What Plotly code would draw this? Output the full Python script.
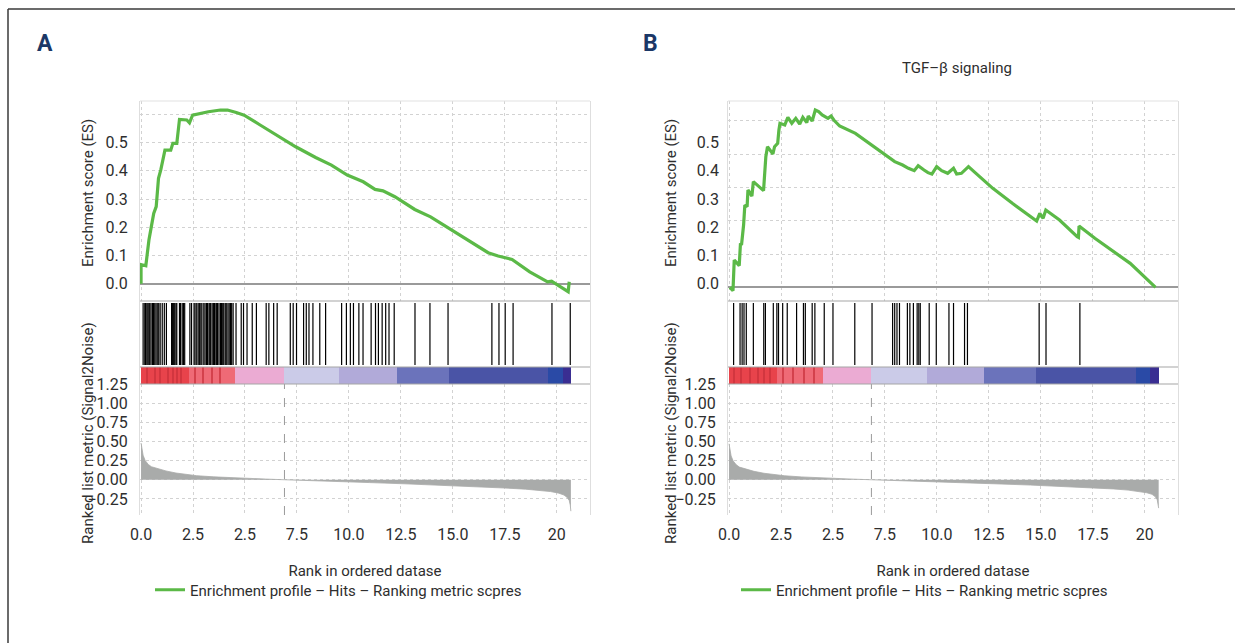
import plotly.graph_objects as go

W, H = 1235, 643

# ------------------------------------------------------------------ data
x_tickvals = [0, 2.5, 5, 7.5, 10, 12.5, 15, 17.5, 20]
x_ticktext = ["0.0", "2.5", "2.5", "7.5", "10.0", "12.5", "15.0", "17.5", "20"]
es_tickvals = [0, 0.1, 0.2, 0.3, 0.4, 0.5, 0.6]
es_ticktext = ["0.0", "0.1", "0.2", "0.3", "0.4", "0.5", ""]
es_label_vals = [0, 0.1, 0.2, 0.3, 0.4, 0.5]
es_label_text = ["0.0", "0.1", "0.2", "0.3", "0.4", "0.5"]
metric_tickvals = [-0.25, 0, 0.25, 0.5, 0.75, 1.0, 1.25]
metric_ticktext = ["\u22120.25", "0.00", "0.25", "0.50", "0.75", "1.00", "1.25"]

# Panel A: running enrichment score
es_a_x = [0, 0.0, 0.23, 0.29, 0.38, 0.48, 0.61, 0.73, 0.84, 0.95, 1.11, 1.15, 1.43, 1.53,
          1.72, 1.85, 2.2, 2.33, 2.48, 2.86, 3.24, 3.82, 4.16, 4.58, 4.96, 5.73, 6.49,
          7.44, 8.4, 9.16, 9.92, 10.69, 11.26, 11.64, 12.21, 13.17, 13.93, 14.69, 15.65,
          16.7, 17.18, 17.85, 18.7, 19.56, 19.75, 20.55, 20.6]
es_a_y = [0, 0.068, 0.064, 0.107, 0.155, 0.196, 0.249, 0.273, 0.373, 0.403, 0.468, 0.473,
          0.473, 0.497, 0.497, 0.582, 0.58, 0.57, 0.597, 0.603, 0.609, 0.615, 0.615, 0.606,
          0.597, 0.562, 0.527, 0.485, 0.447, 0.42, 0.385, 0.361, 0.334, 0.329, 0.308, 0.263,
          0.237, 0.202, 0.157, 0.11, 0.098, 0.086, 0.042, 0.007, 0.009, -0.028, 0.007]

hits_a = [0.1, 0.18, 0.22, 0.28, 0.33, 0.38, 0.42, 0.48, 0.55, 0.6, 0.66, 0.72, 0.78, 0.85,
          0.92, 1.02, 1.12, 1.22, 1.47, 1.52, 1.57, 1.62, 1.68, 1.72, 1.85, 1.9, 1.98, 2.04,
          2.1, 2.35, 2.43, 2.55, 2.6, 2.68, 2.75, 2.82, 2.88, 2.93, 3.02, 3.08, 3.15, 3.2,
          3.27, 3.31, 3.35, 3.42, 3.48, 3.53, 3.6, 3.64, 3.68, 3.75, 3.82, 3.87, 3.93, 3.98,
          4.05, 4.1, 4.18, 4.24, 4.3, 4.36, 4.43, 4.57, 4.82, 4.93, 5.1, 5.35, 5.55, 6.02,
          6.15, 6.38, 6.55, 7.18, 7.32, 7.48, 7.82, 7.95, 8.08, 8.27, 8.6, 8.88, 9.65, 9.88,
          10.07, 10.22, 10.48, 10.68, 11.07, 11.28, 11.42, 11.6, 11.77, 11.93, 12.18, 13.18,
          13.9, 14.77, 16.88, 17.22, 17.52, 17.9, 19.77, 20.65]

metric_a_x = [0, 0.05, 0.1, 0.2, 0.35, 0.5, 0.85, 1.2, 1.68, 2.2, 2.68, 3.5, 4.35, 5.2, 6.0,
              6.9, 8.0, 9.35, 11.0, 12.7, 14.5, 16.0, 17.5, 18.5, 19.2, 19.7, 20.1, 20.35,
              20.5, 20.6, 20.65, 20.68]
metric_a_y = [0.48, 0.4, 0.32, 0.25, 0.2, 0.17, 0.14, 0.115, 0.088, 0.068, 0.053, 0.038,
              0.026, 0.016, 0.009, 0.0, -0.012, -0.022, -0.037, -0.053, -0.07, -0.088,
              -0.108, -0.123, -0.138, -0.154, -0.175, -0.2, -0.23, -0.27, -0.33, -0.41]
zero_cross_a = 6.9

band_a_edges = [0, 2.3, 4.5, 6.9, 9.5, 12.3, 14.8, 19.6, 20.3, 20.68]
band_b_edges = [0, 2.33, 4.5, 6.83, 9.5, 12.25, 14.75, 19.58, 20.25, 20.67]
band_colors = ["#e8434b", "#ef6a76", "#ebabd3", "#cbcbe8", "#b1aad9", "#6b73bb",
               "#4a54a6", "#2a4aa6", "#3a2e92"]
stripes_a = [0.3, 0.7, 0.9, 1.3, 1.55, 1.75, 1.95, 2.6, 3.0, 3.4, 3.8]
stripes_b = [0.25, 0.6, 1.0, 1.4, 1.7, 2.0, 2.6, 3.1, 3.6, 4.1]
stripe_color = "#c9303a"

# Panel B: TGF-beta signaling
es_b_x = [0.04, 0.19, 0.25, 0.49, 0.55, 0.60, 0.70, 0.76, 0.87, 0.91, 1.10, 1.17, 1.66, 1.72,
          1.77, 1.85, 2.11, 2.19, 2.34, 2.40, 2.45, 2.68, 2.83, 3.02, 3.21, 3.40, 3.55, 3.74,
          3.81, 4.00, 4.15, 4.31, 4.48, 4.76, 4.91, 5.04, 5.32, 6.08, 6.84, 7.59, 7.97, 8.35,
          8.63, 8.91, 9.10, 9.38, 9.57, 9.76, 9.99, 10.23, 10.52, 10.80, 10.95, 11.18, 11.52,
          11.84, 12.69, 13.63, 14.77, 14.80, 14.95, 15.11, 15.24, 15.90, 16.75, 16.81, 16.84,
          17.60, 19.30, 20.52]
es_b_y = [0.000, -0.010, 0.082, 0.065, 0.132, 0.127, 0.187, 0.247, 0.242, 0.292, 0.274, 0.317,
          0.290, 0.357, 0.392, 0.422, 0.400, 0.422, 0.432, 0.472, 0.492, 0.487, 0.510, 0.492,
          0.507, 0.490, 0.510, 0.494, 0.514, 0.499, 0.532, 0.527, 0.517, 0.507, 0.514, 0.502,
          0.484, 0.462, 0.427, 0.392, 0.377, 0.367, 0.357, 0.350, 0.365, 0.352, 0.344, 0.340,
          0.362, 0.350, 0.342, 0.357, 0.340, 0.342, 0.362, 0.344, 0.297, 0.252, 0.202, 0.199,
          0.222, 0.207, 0.232, 0.202, 0.152, 0.150, 0.184, 0.147, 0.072, 0.000]

hits_b = [0.22, 0.53, 0.63, 0.72, 0.83, 1.17, 1.67, 1.75, 2.13, 2.30, 2.38, 2.58, 2.80, 3.25,
          3.58, 3.67, 4.0, 4.13, 4.58, 5.0, 6.05, 6.88, 7.87, 7.97, 8.08, 8.2, 8.58, 8.7, 8.87,
          9.05, 9.13, 9.2, 9.63, 9.97, 10.58, 10.8, 11.33, 11.47, 14.92, 15.25, 16.88]

metric_b_x = [0, 0.05, 0.1, 0.2, 0.35, 0.5, 0.85, 1.2, 1.68, 2.2, 2.68, 3.5, 4.35, 5.2, 6.0,
              6.85, 8.0, 9.35, 11.0, 12.7, 14.5, 16.0, 17.5, 18.5, 19.2, 19.7, 20.1, 20.35,
              20.5, 20.6, 20.64, 20.67]
metric_b_y = [0.47, 0.39, 0.31, 0.245, 0.195, 0.165, 0.135, 0.11, 0.085, 0.066, 0.052, 0.037,
              0.025, 0.015, 0.008, 0.0, -0.012, -0.022, -0.036, -0.052, -0.069, -0.086,
              -0.105, -0.12, -0.135, -0.15, -0.17, -0.19, -0.22, -0.26, -0.31, -0.37]
zero_cross_b = 6.85

legend_label = "Enrichment profile \u2013 Hits \u2013 Ranking metric scpres"

# ------------------------------------------------------------------ layout helpers
def xp(px):
    return px / W

def yp(py):
    return 1 - py / H

GREEN = "#5bb947"
GRID = "#d2d2d2"
TXT = "#2e2e2e"
FONT = "Roboto, Lato, sans-serif"
FS = 16      # tick labels
FT = 15      # titles / legend

ES_DOM = [yp(301), yp(101)]
HIT_DOM = [yp(367), yp(301)]
BAND_DOM = [yp(384), yp(367)]
MET_DOM = [yp(515), yp(384)]
X_RANGE = [-0.05, 21.6]

fig = go.Figure()

def band_bars(edges, colors, stripes, xa, ya):
    centers = [(a + b) / 2 for a, b in zip(edges[:-1], edges[1:])]
    widths = [b - a for a, b in zip(edges[:-1], edges[1:])]
    fig.add_trace(go.Bar(x=centers, y=[1] * len(centers), width=widths,
                         marker=dict(color=colors, line=dict(width=0)),
                         xaxis=xa, yaxis=ya, showlegend=False, hoverinfo="skip"))
    fig.add_trace(go.Bar(x=stripes, y=[1] * len(stripes), width=[0.06] * len(stripes),
                         marker=dict(color=stripe_color, line=dict(width=0), opacity=0.7),
                         xaxis=xa, yaxis=ya, showlegend=False, hoverinfo="skip"))

def hit_lines(hits, xa, ya):
    xs, ys = [], []
    for h in hits:
        xs += [h, h, None]
        ys += [0.03, 0.97, None]
    fig.add_trace(go.Scatter(x=xs, y=ys, mode="lines", line=dict(color="black", width=1.2),
                             xaxis=xa, yaxis=ya, showlegend=False, hoverinfo="skip"))

def panel(idx0, xdom, es_x, es_y, hits, edges, stripes, mx, my, zc, legend_name, es_range):
    xa = ["x" if idx0 == 1 else f"x{idx0}"] + [f"x{idx0 + k}" for k in range(1, 4)]
    ya = ["y" if idx0 == 1 else f"y{idx0}"] + [f"y{idx0 + k}" for k in range(1, 4)]
    fig.add_trace(go.Scatter(x=es_x, y=es_y, mode="lines", line=dict(color=GREEN, width=3.2),
                             xaxis=xa[0], yaxis=ya[0], name=legend_label,
                             legend=legend_name, showlegend=True))
    hit_lines(hits, xa[1], ya[1])
    band_bars(edges, band_colors, stripes, xa[2], ya[2])
    fig.add_trace(go.Scatter(x=mx, y=my, mode="lines", fill="tozeroy",
                             line=dict(color="#a9abaa", width=0.8), fillcolor="#a9abaa",
                             xaxis=xa[3], yaxis=ya[3], showlegend=False, hoverinfo="skip"))
    fig.add_shape(type="line", xref=xa[3], yref=f"{ya[3]} domain", x0=zc, x1=zc, y0=0, y1=1,
                  line=dict(color="#9a9a9a", width=1, dash="dash"))
    common_x = dict(domain=xdom, range=X_RANGE, showline=False, zeroline=False,
                    tickvals=x_tickvals, showgrid=True, gridcolor=GRID, griddash="dot",
                    gridwidth=1, ticks="", automargin=False)

    def key(prefix, i):
        return prefix + ("axis" if i == 1 else f"axis{i}")
    lay = {}
    lay[key("x", idx0)] = dict(common_x, anchor=ya[0], showticklabels=False)
    lay[key("x", idx0 + 1)] = dict(common_x, anchor=ya[1], showticklabels=False, showgrid=False)
    lay[key("x", idx0 + 2)] = dict(common_x, anchor=ya[2], showticklabels=False, showgrid=False)
    lay[key("x", idx0 + 3)] = dict(common_x, anchor=ya[3], ticktext=x_ticktext,
                                   tickfont=dict(size=FS, color=TXT),
                                   ticklabelstandoff=8,
                                   title=dict(text="Rank in ordered datase",
                                              font=dict(size=FT, color=TXT), standoff=22))
    frame = dict(showline=True, mirror=True, linecolor="#dedede", linewidth=1, automargin=False)
    is_a = legend_name == "legend"
    lay[key("y", idx0)] = dict(frame, domain=ES_DOM, anchor=xa[0], range=es_range,
                               tickvals=es_tickvals if is_a else es_label_vals,
                               ticktext=es_ticktext if is_a else es_label_text,
                               showticklabels=is_a,
                               showgrid=True, gridcolor=GRID, griddash="dot",
                               zeroline=True, zerolinecolor="#9a9a9a", zerolinewidth=1.5,
                               tickfont=dict(size=FS, color=TXT), ticks="",
                               ticklabelstandoff=8)
    lay[key("y", idx0 + 1)] = dict(frame, domain=HIT_DOM, anchor=xa[1], range=[0, 1],
                                   showticklabels=False, showgrid=False, zeroline=False)
    lay[key("y", idx0 + 2)] = dict(frame, domain=BAND_DOM, anchor=xa[2], range=[0, 1],
                                   showticklabels=False, showgrid=False, zeroline=False)
    lay[key("y", idx0 + 3)] = dict(frame, domain=MET_DOM, anchor=xa[3], range=[-0.46, 1.25],
                                   tickvals=metric_tickvals, ticktext=metric_ticktext,
                                   showgrid=True, gridcolor=GRID, griddash="dot",
                                   zeroline=False, tickfont=dict(size=FS, color=TXT),
                                   ticks="", ticklabelstandoff=8)
    fig.update_layout(**lay)
    for py, col in [(101, "#e2e2e2"), (301, "#a6a6a6"), (367, "#a6a6a6"), (384, "#a6a6a6")]:
        fig.add_shape(type="line", xref="paper", yref="paper", x0=xdom[0], x1=xdom[1],
                      y0=yp(py), y1=yp(py), line=dict(color=col, width=1.2))

A_DOM = [xp(140), xp(590)]
B_DOM = [xp(728), xp(1178)]
panel(1, A_DOM, es_a_x, es_a_y, hits_a, band_a_edges, stripes_a, metric_a_x, metric_a_y,
      zero_cross_a, "legend", [-0.061, 0.647])
panel(5, B_DOM, es_b_x, es_b_y, hits_b, band_b_edges, stripes_b, metric_b_x, metric_b_y,
      zero_cross_b, "legend2", [-0.041, 0.559])

# overlay label axis for panel B enrichment score (labels placed as in the source figure)
fig.add_trace(go.Scatter(x=[None], y=[None], xaxis="x5", yaxis="y9", showlegend=False))
fig.update_layout(yaxis9=dict(overlaying="y5", anchor="x5", side="left", range=[-0.061, 0.647],
                              tickvals=es_label_vals, ticktext=es_label_text, showgrid=False,
                              zeroline=False, showline=False, ticks="", automargin=False,
                              tickfont=dict(size=FS, color=TXT), ticklabelstandoff=8))

annotations = [
    dict(text="<b>A</b>", x=xp(35), y=yp(43), xanchor="left", yanchor="middle",
         font=dict(size=23, color="#1b3766", family="Roboto, sans-serif")),
    dict(text="<b>B</b>", x=xp(641), y=yp(43), xanchor="left", yanchor="middle",
         font=dict(size=23, color="#1b3766", family="Roboto, sans-serif")),
    dict(text="TGF\u2013\u03b2 signaling", x=xp(957), y=yp(68), xanchor="center",
         yanchor="middle", font=dict(size=FT, color=TXT)),
    dict(text="Enrichment score (ES)", x=xp(88), y=yp(193), textangle=-90,
         xanchor="center", yanchor="middle", font=dict(size=FT, color=TXT)),
    dict(text="Ranked list metric (Signal2Noise)", x=xp(88), y=yp(433), textangle=-90,
         xanchor="center", yanchor="middle", font=dict(size=FT, color=TXT)),
    dict(text="Enrichment score (ES)", x=xp(671), y=yp(193), textangle=-90,
         xanchor="center", yanchor="middle", font=dict(size=FT, color=TXT)),
    dict(text="Ranked list metric (Signal2Noise)", x=xp(671), y=yp(433), textangle=-90,
         xanchor="center", yanchor="middle", font=dict(size=FT, color=TXT)),
]
for a in annotations:
    a.update(xref="paper", yref="paper", showarrow=False)

fig.add_shape(type="line", xref="paper", yref="paper", x0=xp(8), x1=1, y0=yp(9), y1=yp(9),
              line=dict(color="#3a3a3a", width=1.5))
fig.add_shape(type="line", xref="paper", yref="paper", x0=xp(8), x1=xp(8), y0=0, y1=yp(9),
              line=dict(color="#3a3a3a", width=1.5))

legend_style = dict(orientation="h", xanchor="left", yanchor="middle",
                    font=dict(size=FT, color=TXT), bgcolor="rgba(0,0,0,0)", itemwidth=30)
fig.update_layout(
    width=W, height=H, margin=dict(l=0, r=0, t=0, b=0, pad=0, autoexpand=False),
    paper_bgcolor="white", plot_bgcolor="white",
    font=dict(family=FONT, size=FS, color=TXT),
    barmode="overlay", bargap=0,
    annotations=annotations,
    legend=dict(legend_style, x=xp(150), y=yp(590)),
    legend2=dict(legend_style, x=xp(736), y=yp(590)),
)

reset_css = (
    "var s=document.createElement('style');"
    "s.innerHTML='html,body{margin:0 !important;padding:0 !important;overflow:hidden;}"
    "body>div{margin:0;padding:0;}';"
    "document.head.appendChild(s);"
)
fig.write_html("out.html", config={"displayModeBar": False}, post_script=reset_css)
